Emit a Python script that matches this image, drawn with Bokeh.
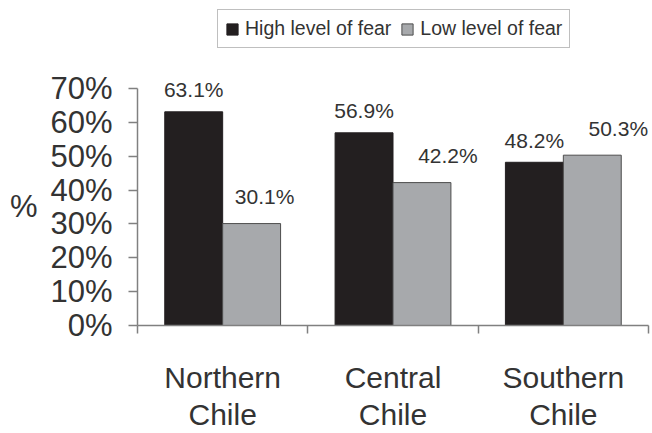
from bokeh.plotting import figure
from bokeh.models import (ColumnDataSource, FixedTicker, Range1d, Legend, LegendItem,
                          LabelSet, LinearAxis)
from bokeh.core.properties import value
from bokeh.embed import file_html
from bokeh.resources import INLINE

regions = ["Northern\nChile", "Central\nChile", "Southern\nChile"]
high_fear = [63.1, 56.9, 48.2]
low_fear = [30.1, 42.2, 50.3]
y_ticks = [0, 10, 20, 30, 40, 50, 60, 70]

DARK = "#231f20"
GREY = "#a7a9ac"
TEXT = "#333333"
AXIS = "#808080"
FONT = "Liberation Sans"

centers = [i + 0.5 for i in range(len(regions))]
bw = 0.34
# horizontal nudge (px) of the low-fear value labels
low_label_dx = [13, 26, 26]

src = ColumnDataSource(dict(
    xh=[c - bw / 2 for c in centers],
    xl=[c + bw / 2 for c in centers],
    high=high_fear,
    low=low_fear,
    high_lbl=[f"{v:.1f}%" for v in high_fear],
    low_lbl=[f"{v:.1f}%" for v in low_fear],
    low_dx=low_label_dx,
))

p = figure(frame_width=511, frame_height=320, output_backend="svg", toolbar_location=None,
           x_range=Range1d(0, len(regions)), y_range=Range1d(0, 94.5),
           min_border_left=137, min_border_right=4, min_border_top=5,
           min_border_bottom=0)
p.outline_line_color = None
p.xgrid.visible = False
p.ygrid.visible = False
p.background_fill_color = "white"
p.border_fill_color = "white"

r_high = p.vbar(x="xh", top="high", width=bw, source=src,
                fill_color=DARK, line_color=DARK, line_width=1)
r_low = p.vbar(x="xl", top="low", width=bw, source=src,
               fill_color=GREY, line_color="#4d4d4d", line_width=1)

p.add_layout(LabelSet(x="xh", y="high", text="high_lbl", source=src,
                      text_align="center", text_baseline="middle", y_offset=22,
                      text_font=value(FONT), text_font_size="21px", text_color=TEXT))
p.add_layout(LabelSet(x="xl", y="low", text="low_lbl", source=src,
                      text_align="center", text_baseline="middle", y_offset=27,
                      x_offset="low_dx",
                      text_font=value(FONT), text_font_size="21px", text_color=TEXT))

# y axis: percentages, tick marks pointing outward, axis stops at 70%
ya = p.yaxis[0]
ya.ticker = FixedTicker(ticks=y_ticks)
ya.bounds = (0, 70)
ya.major_label_overrides = {t: f"{t}%" for t in y_ticks}
ya.major_label_text_font = FONT
ya.major_label_text_font_size = "31px"
ya.major_label_text_color = TEXT
ya.major_tick_out = 9
ya.major_tick_in = 0
ya.minor_tick_out = 0
ya.minor_tick_in = 0
ya.axis_line_color = AXIS
ya.major_tick_line_color = AXIS
ya.axis_line_width = 1.5
ya.major_tick_line_width = 1.5
ya.major_label_standoff = 16

# outer left axis carrying only the horizontal "%" title at mid-span
title_axis = LinearAxis(ticker=FixedTicker(ticks=[35]),
                        major_label_overrides={35: "%"},
                        major_label_text_font=FONT, major_label_text_font_size="31px",
                        major_label_text_color=TEXT, major_label_standoff=10,
                        axis_line_color=None, major_tick_line_color=None,
                        minor_tick_line_color=None, major_tick_out=0, major_tick_in=0)
p.add_layout(title_axis, "left")

# x axis: region names centred, separator ticks between groups
xa = p.xaxis[0]
xa.ticker = FixedTicker(ticks=centers, minor_ticks=list(range(len(regions) + 1)))
xa.major_label_overrides = {c: r for c, r in zip(centers, regions)}
xa.major_label_text_font = FONT
xa.major_label_text_font_size = "30px"
xa.major_label_text_line_height = 1.15
xa.major_label_text_color = TEXT
xa.major_label_standoff = 27
xa.major_tick_out = 0
xa.major_tick_in = 0
xa.minor_tick_out = 8
xa.minor_tick_in = 0
xa.axis_line_color = AXIS
xa.minor_tick_line_color = AXIS
xa.axis_line_width = 1.5
xa.minor_tick_line_width = 1.5

legend = Legend(items=[LegendItem(label="High level of fear", renderers=[r_high]),
                       LegendItem(label="Low level of fear", renderers=[r_low])],
                orientation="horizontal", location=(80, 277),
                label_text_font=FONT, label_text_font_size="19.5px", label_text_color=TEXT,
                glyph_width=14, glyph_height=14, spacing=9, padding=7, margin=0,
                label_standoff=6, border_line_color=AXIS, border_line_width=1.5,
                background_fill_alpha=1)
p.add_layout(legend)

open("out.html", "w").write(file_html(p, INLINE))
